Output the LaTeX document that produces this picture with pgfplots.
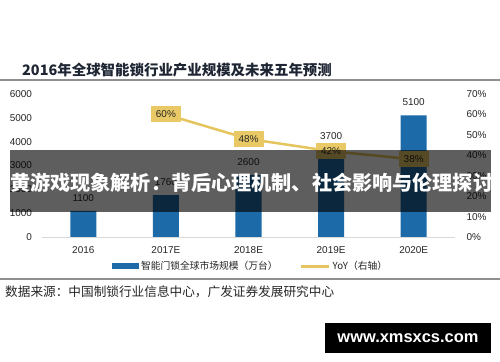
\documentclass[border=0pt]{standalone}
\usepackage{fontspec}
\setmainfont{Liberation Sans}
\newfontfamily\cjk{Noto Sans CJK SC}
\usepackage{pgfplots}
\pgfplotsset{compat=1.18}
\definecolor{barblue}{HTML}{1C6BA8}
\definecolor{lineyel}{HTML}{E5C55E}
\definecolor{boxyel}{HTML}{E9C965}
\definecolor{txt}{HTML}{262626}
\definecolor{titlec}{HTML}{1E2533}
\definecolor{rulec}{HTML}{8F8F8F}
\begin{document}
\begin{tikzpicture}
\useasboundingbox[fill=white] (0,0) rectangle (500bp,362bp);
\begin{axis}[
  at={(42bp,125bp)}, anchor=south west,
  scale only axis, width=413bp, height=143bp,
  xmin=-0.5, xmax=4.5, ymin=0, ymax=6000,
  axis x line*=bottom, axis y line*=left,
  x axis line style={draw=black!15, line width=0.8bp, -},
  y axis line style={draw=none},
  tick style={draw=none},
  xtick={0,...,4}, xticklabels={2016,2017E,2018E,2019E,2020E},
  ytick={0,1000,...,6000},
  /pgf/number format/assume math mode=true,
  /pgf/number format/set thousands separator={},
  ticklabel style={font=\fontsize{10}{12}\selectfont, text=txt},
  yticklabel style={xshift=-6.5bp},
  xticklabel style={yshift=-6bp},
  clip=false,
  legend style={at={(0.505,-0.203)}, anchor=center, draw=none, fill=none, legend columns=2,
    font=\cjk\fontsize{9.8}{11}\selectfont, text=txt,
    /tikz/every even column/.append style={column sep=20bp}},
]
\addplot[ybar, bar width=26bp, fill=barblue, draw=none,
  nodes near coords,
  every node near coord/.append style={font=\fontsize{10}{12}\selectfont, text=txt, yshift=6bp},
  legend image code/.code={\fill[barblue] (0bp,-3bp) rectangle (27bp,3bp);}]
  coordinates {(0,1100) (1,1760) (2,2600) (3,3700) (4,5100)};
\addlegendentry{智能门锁全球市场规模（万台）}
\addlegendimage{legend image code/.code={\draw[lineyel, line width=3bp] (0bp,0bp) -- (28bp,0bp);}}
\addlegendentry{YoY（右轴）}
\end{axis}
\begin{axis}[
  at={(42bp,125bp)}, anchor=south west,
  scale only axis, width=413bp, height=143bp,
  xmin=-0.5, xmax=4.5, ymin=0, ymax=70,
  axis y line*=right, axis x line=none,
  y axis line style={draw=none}, tick style={draw=none},
  ytick={0,10,...,70},
  /pgf/number format/assume math mode=true,
  yticklabel={\pgfmathprintnumber{\tick}\%},
  ticklabel style={font=\fontsize{10}{12}\selectfont, text=txt},
  yticklabel style={xshift=8bp},
  clip=false,
]
\addplot[lineyel, line width=2.5bp, mark=none,
  nodes near coords, point meta=explicit symbolic,
  every node near coord/.append style={anchor=center, fill=boxyel, text=txt,
    font=\fontsize{10}{12}\selectfont, minimum width=30bp, minimum height=16bp, inner sep=0pt}]
  coordinates {(1,60)[60\%] (2,48)[48\%] (3,42)[42\%] (4,38)[38\%]};
\end{axis}
\begin{scope}[x=1bp,y=1bp]
\node[anchor=west, font=\cjk\bfseries\fontsize{14.5}{16}\selectfont, text=titlec, inner sep=0] at (22,292) {2016年全球智能锁行业产业规模及未来五年预测};
\draw[rulec, line width=1.2bp] (0,282) -- (500,282);
\draw[rulec, line width=1.2bp] (0,83) -- (500,83);
\node[anchor=west, font=\cjk\fontsize{12.7}{14}\selectfont, text=txt, inner sep=0] at (5,70) {数据来源：中国制锁行业信息中心，广发证券发展研究中心};
\fill[black, opacity=0.63] (10,150) rectangle (491,212);
\node[anchor=west, font=\cjk\bfseries\fontsize{20.2}{24}\selectfont, text=white, inner sep=0] at (10,179) {黄游戏现象解析：背后心理机制、社会影响与伦理探讨};
\fill[black] (325,9) rectangle (491,39);
\node[font=\bfseries\fontsize{16.5}{18}\selectfont, text=white, inner sep=0] at (408,24) {www.xmsxcs.com};
\end{scope}
\end{tikzpicture}
\end{document}
